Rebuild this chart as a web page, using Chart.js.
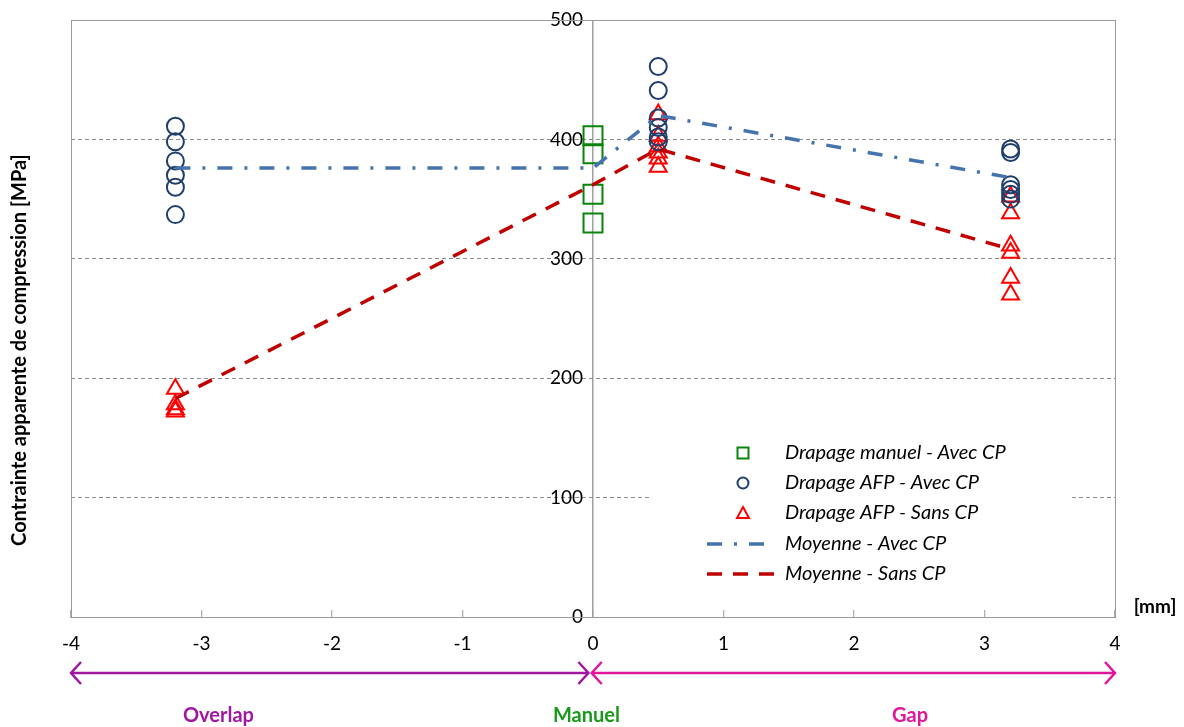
<!DOCTYPE html>
<html>
<head>
<meta charset="utf-8">
<script src="https://cdn.jsdelivr.net/npm/chart.js@4.4.1/dist/chart.umd.min.js"></script>
<style>
  html, body { margin: 0; padding: 0; background: #fff; }
  #wrap { width: 1184px; height: 727px; }
</style>
</head>
<body>
<div id="wrap"><canvas id="compression_graph" width="1184" height="727"></canvas></div>
<script>
// x = taille du défaut [mm] (négatif = overlap, positif = gap)
const manuelX = [0, 0, 0, 0];
const manuelY = [403, 388, 354, 330];

const afpAvecX = [-3.2, -3.2, -3.2, -3.2, -3.2, -3.2, 0.5, 0.5, 0.5, 0.5, 0.5, 0.5, 3.2, 3.2, 3.2, 3.2, 3.2, 3.2];
const afpAvecY = [411, 398, 382, 370, 360, 337, 461, 441, 418, 410, 402, 398, 392, 389, 362, 358, 354, 350];

const afpSansX = [-3.2, -3.2, -3.2, -3.2, 0.5, 0.5, 0.5, 0.5, 0.5, 0.5, 3.2, 3.2, 3.2, 3.2, 3.2, 3.2];
const afpSansY = [191, 178, 174, 172, 421, 403, 394, 389, 384, 377, 352, 338, 311, 305, 284, 270];

const moyX = [-3.2, 0, 0.5, 3.2];
const moyAvecY = [376, 376, 420, 368];
const moySansY = [183, 362, 392, 308];

const seriesLabels = [
  'Drapage manuel - Avec CP',
  'Drapage AFP - Avec CP',
  'Drapage AFP - Sans CP',
  'Moyenne - Avec CP',
  'Moyenne - Sans CP'
];

// zones sous l'axe x
const zoneLabels = ['Overlap', 'Manuel', 'Gap'];
const zoneLabelX = [-2.87, -0.05, 2.43];
const zoneColors = ['#a0189f', '#1a9a1a', '#e0179b'];
const arrowFrom = [-4, -0.01];
const arrowTo = [-0.035, 4];
const arrowColors = ['#a0189f', '#e0179b'];

const FONT = 'Lato, "Open Sans", sans-serif';

function pts(xs, ys) {
  return xs.map((x, i) => ({ x: x, y: ys[i] }));
}

const extras = {
  id: 'extras',
  beforeDatasetsDraw(chart) {
    const { ctx, chartArea: a } = chart;
    ctx.save();
    ctx.strokeStyle = '#9a9a9a';
    ctx.lineWidth = 1;
    ctx.strokeRect(Math.round(a.left) + 0.5, Math.round(a.top) + 0.5, Math.round(a.right - a.left), Math.round(a.bottom - a.top));
    ctx.restore();
  },
  afterDraw(chart) {
    const { ctx, chartArea: a } = chart;
    const xs = chart.scales.x;
    ctx.save();

    // titre axe y
    ctx.fillStyle = '#000';
    ctx.font = 'bold 20px ' + FONT;
    ctx.textAlign = 'center';
    ctx.textBaseline = 'middle';
    ctx.translate(20, 350);
    ctx.rotate(-Math.PI / 2);
    ctx.fillText('Contrainte apparente de compression [MPa]', 0, 0);
    ctx.setTransform(1, 0, 0, 1, 0, 0);

    ctx.font = 'bold 19px ' + FONT;
    ctx.fillText('[mm]', a.right + 40, a.bottom - 10);

    // flèches
    const ay = 673;
    arrowFrom.forEach((v, i) => {
      const x0 = xs.getPixelForValue(v);
      const x1 = xs.getPixelForValue(arrowTo[i]);
      ctx.strokeStyle = arrowColors[i];
      ctx.lineWidth = 2.5;
      ctx.beginPath();
      ctx.moveTo(x0, ay); ctx.lineTo(x1, ay);
      ctx.moveTo(x0 + 10, ay - 11); ctx.lineTo(x0, ay); ctx.lineTo(x0 + 10, ay + 11);
      ctx.moveTo(x1 - 10, ay - 11); ctx.lineTo(x1, ay); ctx.lineTo(x1 - 10, ay + 11);
      ctx.stroke();
    });

    ctx.font = 'bold 20px ' + FONT;
    zoneLabels.forEach((t, i) => {
      ctx.fillStyle = zoneColors[i];
      ctx.fillText(t, xs.getPixelForValue(zoneLabelX[i]), 716);
    });

    // légende
    ctx.fillStyle = '#fff';
    ctx.fillRect(649, 433, 421, 160);
    const rows = [453, 483, 513, 544, 574];
    chart.data.datasets.forEach((ds, i) => {
      const y = rows[i];
      ctx.strokeStyle = ds.borderColor;
      ctx.lineWidth = ds.legendWidth;
      ctx.setLineDash([]);
      ctx.beginPath();
      if (ds.pointStyle === 'rect') {
        ctx.rect(737.5, y - 5.5, 11, 11);
      } else if (ds.pointStyle === 'circle') {
        ctx.arc(743, y, 5.5, 0, Math.PI * 2);
      } else if (ds.pointStyle === 'triangle') {
        ctx.moveTo(743, y - 6); ctx.lineTo(749, y + 5); ctx.lineTo(737, y + 5); ctx.closePath();
      } else {
        ctx.setLineDash(ds.borderDash);
        ctx.moveTo(707, y); ctx.lineTo(i === 3 ? 766 : 776, y);
      }
      ctx.stroke();
      ctx.setLineDash([]);
      ctx.fillStyle = '#000';
      ctx.font = 'italic 20px ' + FONT;
      ctx.textAlign = 'left';
      ctx.fillText(ds.label, 785, y);
    });
    ctx.restore();
  }
};

const ctx = document.getElementById('compression_graph').getContext('2d');

const chart = new Chart(ctx, {
  type: 'scatter',
  data: {
    datasets: [
      {
        label: seriesLabels[0],
        data: pts(manuelX, manuelY),
        pointStyle: 'rect',
        pointRadius: 13.4,
        borderColor: '#0a840a',
        backgroundColor: 'rgba(0,0,0,0)',
        borderWidth: 2,
        legendWidth: 2,
        order: 1
      },
      {
        label: seriesLabels[1],
        data: pts(afpAvecX, afpAvecY),
        pointStyle: 'circle',
        pointRadius: 8.5,
        borderColor: '#1f3e6c',
        backgroundColor: 'rgba(0,0,0,0)',
        borderWidth: 2,
        legendWidth: 2,
        order: 1
      },
      {
        label: seriesLabels[2],
        data: pts(afpSansX, afpSansY),
        pointStyle: 'triangle',
        pointRadius: 9.8,
        borderColor: '#ff0000',
        backgroundColor: 'rgba(0,0,0,0)',
        borderWidth: 2,
        legendWidth: 2,
        order: 1
      },
      {
        label: seriesLabels[3],
        data: pts(moyX, moyAvecY),
        showLine: true,
        pointRadius: 0,
        borderColor: '#4573ad',
        borderWidth: 3.5,
        legendWidth: 3.5,
        borderDash: [15, 12, 3, 12],
        order: 0
      },
      {
        label: seriesLabels[4],
        data: pts(moyX, moySansY),
        showLine: true,
        pointRadius: 0,
        borderColor: '#c00000',
        borderWidth: 3.5,
        legendWidth: 3.5,
        borderDash: [15, 11],
        order: 0
      }
    ]
  },
  options: {
    responsive: false,
    animation: false,
    events: [],
    layout: { padding: { left: 71, right: 69, top: 20, bottom: 70 } },
    plugins: {
      legend: { display: false },
      tooltip: { enabled: false }
    },
    scales: {
      x: {
        type: 'linear',
        min: -4,
        max: 4,
        afterFit(s) { s.height = 40; },
        ticks: { stepSize: 1, color: '#000', padding: 22, font: { family: FONT, size: 19 } },
        grid: {
          drawOnChartArea: true,
          color: c => (c.tick && c.tick.value === 0) ? '#a0a0a0' : 'rgba(0,0,0,0)',
          lineWidth: 1.5,
          drawTicks: true,
          tickLength: -7,
          tickColor: '#9a9a9a',
          tickWidth: 1
        },
        border: { display: true, color: '#9a9a9a' }
      },
      y: {
        min: 0,
        max: 500,
        // labels posés juste à gauche de la ligne x = 0
        position: { x: -0.077 },
        ticks: { stepSize: 100, color: '#000', font: { family: FONT, size: 19 } },
        grid: { color: '#8c8c8c', lineWidth: 1, drawTicks: false },
        border: { display: false, dash: [4, 3] }
      }
    }
  },
  plugins: [extras]
});
</script>
</body>
</html>
